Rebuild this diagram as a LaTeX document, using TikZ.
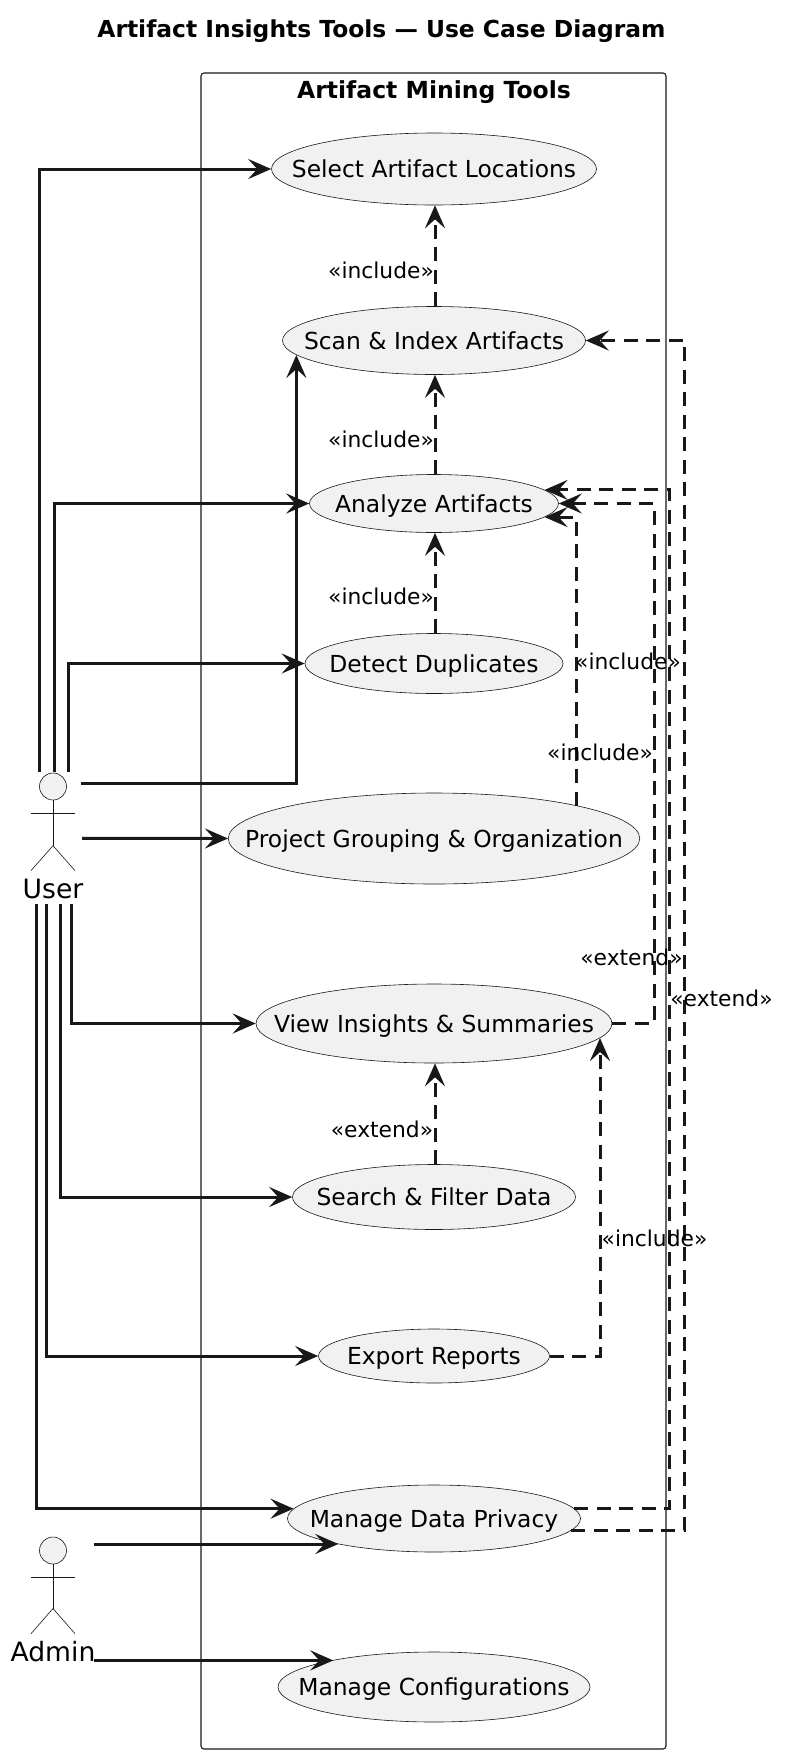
\documentclass[tikz,border=0pt]{standalone}
\usepackage{xcolor}
\usepackage{fontspec}
\setmainfont{DejaVu Sans}
\usepackage{tikz}
\usetikzlibrary{arrows.meta,shapes.geometric}
\definecolor{linecol}{HTML}{181818}
\definecolor{casefill}{HTML}{F1F1F1}
\newcommand{\casetext}[1]{\makebox[0pt]{\vphantom{A}\smash{#1}}}
\tikzset{
  usecase/.style={ellipse,draw=linecol,fill=casefill,line width=0.6pt,inner sep=0pt,font=\fontsize{23.4}{28}\selectfont},
  actorhead/.style={ellipse,draw=linecol,fill=casefill,line width=0.6pt,inner sep=0pt,minimum width=27pt,minimum height=27pt},
  actorline/.style={draw=linecol,line width=0.6pt},
  actorname/.style={font=\fontsize{26.6}{32}\selectfont,inner sep=0pt},
  stereo/.style={font=\fontsize{21.8}{26}\selectfont,inner sep=0pt},
  uses/.style={draw=linecol,line width=3pt,-{Stealth[length=23pt,width=20pt,inset=9pt]}},
  dep/.style={draw=linecol,line width=3pt,dash pattern=on 14pt off 8.5pt,-{Stealth[length=23pt,width=20pt,inset=9pt]}}
}

\begin{document}
\begin{tikzpicture}[x=1pt,y=-1pt]
  \useasboundingbox (0,0) rectangle (785,1757);
  \node[font=\fontsize{23.4}{28}\selectfont\bfseries,inner sep=0pt] (title) at (381.5,31.5) {Artifact Insights Tools — Use Case Diagram};
  \draw[linecol,line width=1.1pt,rounded corners=3pt] (201,73) rectangle (666,1749);
  \node[font=\fontsize{23.5}{28}\selectfont\bfseries,inner sep=0pt] (boxtitle) at (434,92.5) {Artifact Mining Tools};

  \node[usecase,minimum width=325pt,minimum height=72pt] (sel) at (434,169) {\casetext{Select Artifact Locations}};
  \node[usecase,minimum width=303pt,minimum height=68pt] (sca) at (434,340.5) {\casetext{Scan \& Index Artifacts}};
  \node[usecase,minimum width=249pt,minimum height=58pt] (ana) at (434,503.5) {\casetext{Analyze Artifacts}};
  \node[usecase,minimum width=258pt,minimum height=60pt] (det) at (434,663.5) {\casetext{Detect Duplicates}};
  \node[usecase,minimum width=411.5pt,minimum height=91pt] (pro) at (434,838.5) {\casetext{Project Grouping \& Organization}};
  \node[usecase,minimum width=356pt,minimum height=79pt] (vie) at (434,1023.5) {\casetext{View Insights \& Summaries}};
  \node[usecase,minimum width=283pt,minimum height=65pt] (sea) at (434,1197) {\casetext{Search \& Filter Data}};
  \node[usecase,minimum width=231pt,minimum height=54pt] (exp) at (434,1356) {\casetext{Export Reports}};
  \node[usecase,minimum width=293pt,minimum height=67pt] (mdp) at (434,1518.5) {\casetext{Manage Data Privacy}};
  \node[usecase,minimum width=312pt,minimum height=70pt] (cfg) at (434,1687) {\casetext{Manage Configurations}};

  \begin{scope}[shift={(53,773)}]
    \node[actorhead] (userhead) at (0,13.5) {};
    \draw[actorline] (userhead.south) -- (0,72.7);
    \draw[actorline] (-22,40) -- (22,40);
    \draw[actorline] (-22,97.6) -- (0,72.7) -- (22,97.6);
    \node[actorname] (username) at (0,116) {User};
    \coordinate (uSel) at (-14,-1);
    \coordinate (uAna) at (1,-1);
    \coordinate (uDet) at (15.5,-1);
    \coordinate (uSca) at (28,10);
    \coordinate (uPro) at (29,65.4);
    \coordinate (uVie) at (18,131);
    \coordinate (uSea) at (7.5,131);
    \coordinate (uExp) at (-6.5,131);
    \coordinate (uMdp) at (-17,131);
  \end{scope}
  \begin{scope}[shift={(53,1537.5)}]
    \node[actorhead] (adminhead) at (0,13) {};
    \draw[actorline] (adminhead.south) -- (0,71);
    \draw[actorline] (-22,39.5) -- (22,39.5);
    \draw[actorline] (-22,96.2) -- (0,71) -- (22,96.2);
    \node[actorname] (adminname) at (0,114.5) {Admin};
    \coordinate (aMdp) at (41,6.5);
    \coordinate (aCfg) at (41,122.9);
  \end{scope}

  \draw[uses] (uSel) |- (sel.west);
  \draw[uses] (uAna) |- (ana.west);
  \draw[uses] (uDet) |- (det.west);
  \draw[uses] (uSca) -| (sca.186);
  \draw[uses] (uPro) -- (pro.west);
  \draw[uses] (uVie) |- (vie.west);
  \draw[uses] (uSea) |- (sea.west);
  \draw[uses] (uExp) |- (exp.west);
  \draw[uses] (uMdp) |- (mdp.176.7);
  \draw[uses] (aMdp) -- (aMdp -| mdp.195);
  \draw[uses] (aCfg) -- (aCfg -| cfg.165.2);

  \coordinate (vieBend) at (654,1000);
  \coordinate (mdpBendA) at (669.5,1000);
  \coordinate (mdpBendS) at (684.5,1000);
  \draw[dep] ([xshift=1pt]sca.north) -- ([xshift=1pt]sel.south);
  \draw[dep] ([xshift=1pt]ana.north) -- ([xshift=1pt]sca.south);
  \draw[dep] ([xshift=1pt]det.north) -- ([xshift=1pt]ana.south);
  \draw[dep] ([xshift=1pt]sea.north) -- ([xshift=1pt]vie.south);
  \draw[dep] (pro.13.4) |- (ana.353);
  \draw[dep] (vie.east) -| (vieBend) |- (ana.east);
  \draw[dep] (exp.east) -| (vie.355.4);
  \draw[dep] (mdp.4.75) -| (mdpBendA) |- (ana.7.75);
  \draw[dep] (mdp.355.7) -| (mdpBendS) |- (sca.east);

  \node[stereo] (lblSel) at (381,270) {«include»};
  \node[stereo] (lblSca) at (381,439) {«include»};
  \node[stereo] (lblAna) at (381,596) {«include»};
  \node[stereo] (lblDup) at (628,661) {«include»};
  \node[stereo] (lblPro) at (600,752) {«include»};
  \node[stereo] (lblVie) at (631.5,957) {«extend»};
  \node[stereo] (lblPri) at (721.5,998) {«extend»};
  \node[stereo] (lblSea) at (382,1129) {«extend»};
  \node[stereo] (lblExp) at (654.5,1238) {«include»};
\end{tikzpicture}
\end{document}
